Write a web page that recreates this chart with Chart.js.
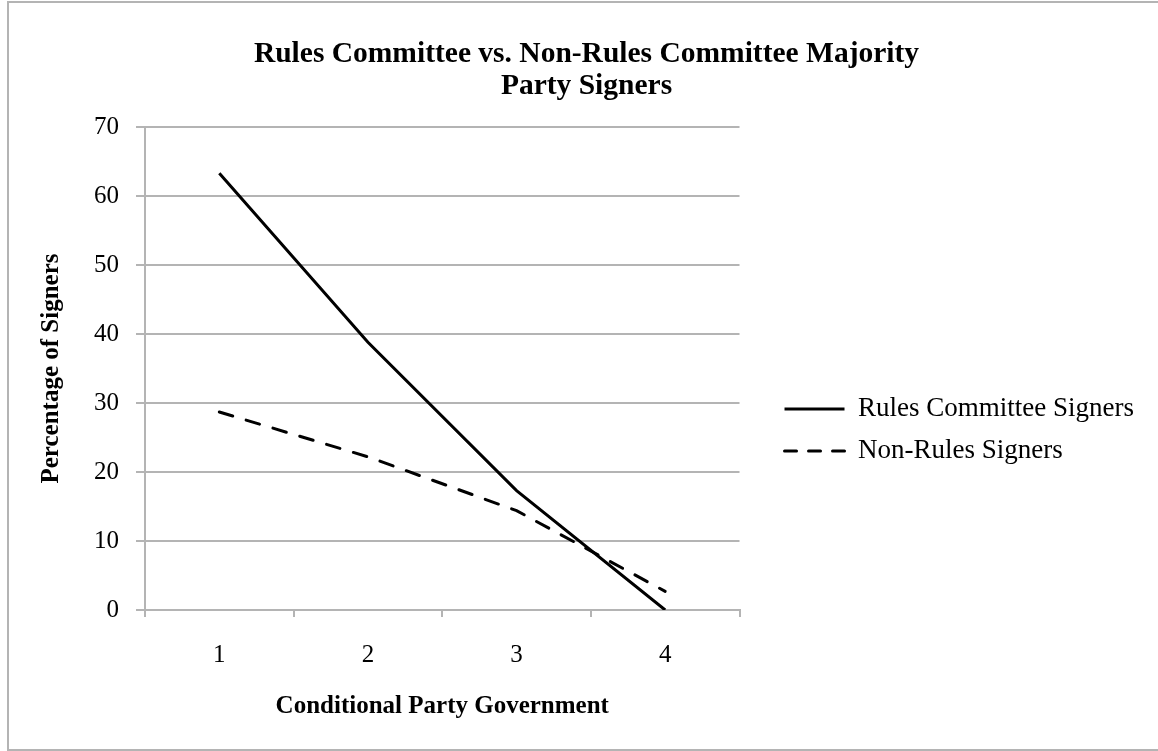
<!DOCTYPE html>
<html>
<head>
<meta charset="utf-8">
<script src="https://cdn.jsdelivr.net/npm/chart.js@4"></script>
<style>
  html, body { margin: 0; padding: 0; background: #fff; overflow: hidden; }
  #frame {
    position: absolute; left: 7px; top: 1px;
    width: 1149px; height: 746px;
    border: 2px solid #b4b4b4; border-right: none;
  }
</style>
</head>
<body>
<div id="frame"><canvas id="myChart"></canvas></div>
<script>
// data
const categories = ['1', '2', '3', '4'];
const rulesSigners = [63.3, 38.8, 17.3, 0];
const nonRulesSigners = [28.7, 22.2, 14.4, 2.7];
const yTicks = [0, 10, 20, 30, 40, 50, 60, 70];

const serif = '"Liberation Serif", "Times New Roman", serif';
const gridGray = '#b4b4b4';

Chart.defaults.font.family = serif;
Chart.defaults.color = '#000';

const ctx = document.getElementById('myChart').getContext('2d');

new Chart(ctx, {
  type: 'line',
  data: {
    labels: categories,
    datasets: [{
      label: 'Rules Committee Signers',
      data: rulesSigners,
      borderColor: '#000',
      backgroundColor: '#000',
      borderWidth: 3,
      pointRadius: 0,
      tension: 0
    }, {
      label: 'Non-Rules Signers',
      data: nonRulesSigners,
      borderColor: '#000',
      backgroundColor: '#000',
      borderWidth: 3,
      borderDash: [14, 14],
      borderCapStyle: 'round',
      pointRadius: 0,
      tension: 0
    }]
  },
  options: {
    responsive: true,
    maintainAspectRatio: false,
    animation: false,
    layout: {
      padding: { top: 10, left: 20, right: 14, bottom: 24 }
    },
    plugins: {
      tooltip: { enabled: false },
      title: {
        display: true,
        text: ['Rules Committee vs. Non-Rules Committee Majority', 'Party Signers'],
        font: { size: 29.5, weight: 'bold', lineHeight: 1.085 },
        padding: { top: 25, bottom: 25 }
      },
      legend: {
        position: 'right',
        maxWidth: 400,
        // blank title only pushes the entries down
        title: {
          display: true,
          text: ' ',
          font: { size: 10 },
          padding: { top: 0, bottom: 110 }
        },
        labels: {
          usePointStyle: true,
          pointStyle: 'line',
          pointStyleWidth: 60,
          padding: 15,
          font: { size: 27 },
          // point-style items lose the dash, so copy it from the dataset
          generateLabels: (chart) => {
            const items = Chart.defaults.plugins.legend.labels.generateLabels(chart);
            items.forEach((item, i) => {
              const ds = chart.data.datasets[i];
              item.lineDash = ds.borderDash ? [12, 12] : [];
              item.lineCap = ds.borderCapStyle || 'butt';
              item.lineWidth = ds.borderWidth;
              item.strokeStyle = ds.borderColor;
            });
            return items;
          }
        }
      }
    },
    scales: {
      x: {
        offset: true,
        grid: {
          offset: true,
          drawOnChartArea: false,
          drawTicks: true,
          tickLength: 7,
          color: gridGray,
          lineWidth: 2
        },
        border: { color: gridGray, width: 2 },
        ticks: { font: { size: 25 }, padding: 23 },
        title: {
          display: true,
          text: 'Conditional Party Government',
          font: { size: 25, weight: 'bold' },
          padding: { top: -1, bottom: 3 }
        }
      },
      y: {
        min: 0,
        max: 70,
        afterBuildTicks: (scale) => {
          scale.ticks = yTicks.map(v => ({ value: v }));
        },
        grid: {
          color: gridGray,
          lineWidth: 2,
          tickLength: 9
        },
        border: { color: gridGray, width: 2 },
        ticks: { font: { size: 25 }, padding: 17 },
        title: {
          display: true,
          text: 'Percentage of Signers',
          font: { size: 25, weight: 'bold' },
          padding: { top: 8, bottom: 10 }
        }
      },
      // empty spacer between plot and legend
      gap: {
        type: 'linear',
        position: 'right',
        grid: { display: false },
        border: { display: false },
        ticks: { display: false },
        afterFit: (scale) => { scale.width = 30; }
      }
    }
  }
});
</script>
</body>
</html>
